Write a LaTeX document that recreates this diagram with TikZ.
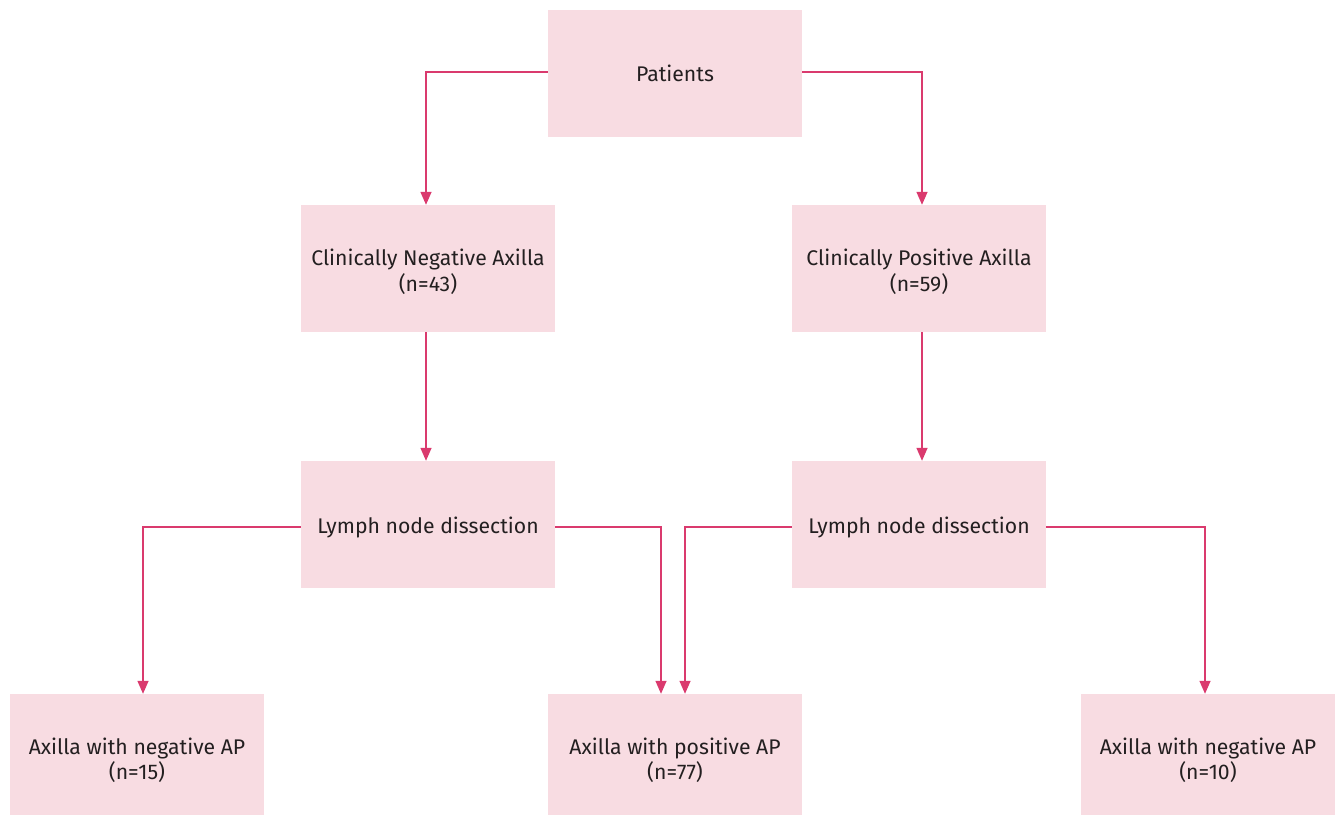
\documentclass[tikz,border=0pt]{standalone}
\usepackage{fontspec}
\setmainfont{Fira Sans}
\usetikzlibrary{arrows.meta}
\definecolor{boxfill}{HTML}{F8DCE2}
\definecolor{linec}{HTML}{DA3A6E}
\definecolor{textc}{HTML}{231F20}
\begin{document}
\begin{tikzpicture}[x=1pt,y=-1pt,
  box/.style={fill=boxfill,draw=none,minimum width=254pt,minimum height=127pt,inner sep=0pt},
  txt/.style={inner sep=0pt,align=center,text=textc,anchor=base,font=\fontsize{21.2}{25.5}\selectfont},
  conn/.style={draw=linec,line width=1.4pt,-{Triangle[length=13pt,width=11pt]}}]
\useasboundingbox (0,0) rectangle (1335,814);
\node[box] (pat) at (675,73.5) {};
\node[box] (cna) at (428,268.5) {};
\node[box] (cpa) at (919,268.5) {};
\node[box] (lndl) at (428,524.5) {};
\node[box] (lndr) at (919,524.5) {};
\node[box] (bl) at (137,757.5) {};
\node[box] (bm) at (675,757.5) {};
\node[box] (br) at (1208,757.5) {};
\node[txt] (patt) at ([yshift=-8.3pt]pat.center) {Patients};
\node[txt] (cnat) at ([yshift=-22.5pt]cna.center) {Clinically Negative Axilla\\(n=43)};
\node[txt] (cpat) at ([yshift=-22.5pt]cpa.center) {Clinically Positive Axilla\\(n=59)};
\node[txt] (lndlt) at ([yshift=-8.8pt]lndl.center) {Lymph node dissection};
\node[txt] (lndrt) at ([yshift=-8.8pt]lndr.center) {Lymph node dissection};
\node[txt] (blt) at ([yshift=-22pt]bl.center) {Axilla with negative AP\\(n=15)};
\node[txt] (bmt) at ([yshift=-22pt]bm.center) {Axilla with positive AP\\(n=77)};
\node[txt] (brt) at ([yshift=-22pt]br.center) {Axilla with negative AP\\(n=10)};
\coordinate (c1) at (426,72);
\coordinate (c2) at (922,72);
\draw[conn] (pat.west |- c1) -| (cna.north -| c1);
\draw[conn] (pat.east |- c2) -| (cpa.north -| c2);
\draw[conn] (cna.south -| c1) -- (lndl.north -| c1);
\draw[conn] (cpa.south -| c2) -- (lndr.north -| c2);
\coordinate (d1) at (143,527);
\coordinate (d2) at (661,527);
\coordinate (d3) at (685,527);
\coordinate (d4) at (1205,527);
\draw[conn] (lndl.west |- d1) -| (bl.north -| d1);
\draw[conn] (lndl.east |- d2) -| (bm.north -| d2);
\draw[conn] (lndr.west |- d3) -| (bm.north -| d3);
\draw[conn] (lndr.east |- d4) -| (br.north -| d4);
\end{tikzpicture}
\end{document}
